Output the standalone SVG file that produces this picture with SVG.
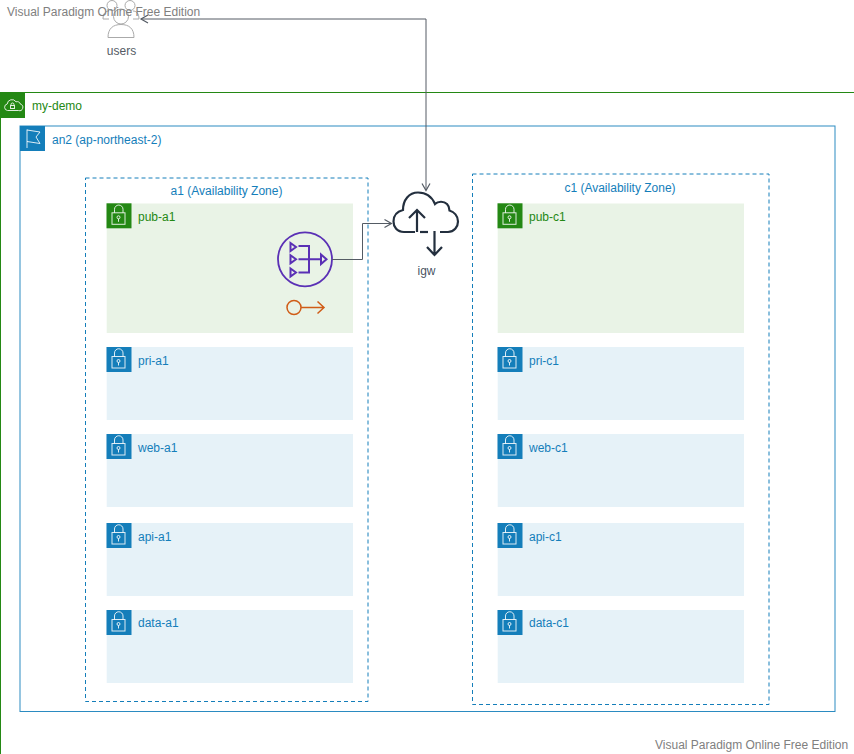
<svg xmlns="http://www.w3.org/2000/svg" width="854" height="754" viewBox="0 0 854 754">
<style>
text{font-family:"Liberation Sans",Arial,sans-serif;font-size:12px}
.g{fill:#248814}.b{fill:#147eba}.k{fill:#232f3e}.wm{fill:#808080}
.sg{fill:#e9f3e6}.sb{fill:#e6f2f8}
.az{fill:none;stroke:#147eba;stroke-dasharray:4 3}
.ico{fill:none;stroke:#fff;stroke-width:1;opacity:.85}
.conn{fill:none;stroke:#545b64;stroke-width:1}
.arr{fill:none;stroke:#545b64;stroke-width:1.200}
.cl{fill:none;stroke:#232f3e;stroke-width:2.200}
</style>
<defs>
<g id="lock">
<path class="ico" d="M8 9.500V6a4 4 0 0 1 8.500 0V9.500"/>
<rect class="ico" x="5.500" y="9.500" width="13" height="11.500"/>
<circle class="ico" cx="12" cy="14" r="1.500"/>
<path class="ico" d="M12 15.500v3"/>
</g>
<g id="gLock"><rect width="25" height="25" fill="#248814"/><use href="#lock"/></g>
<g id="bLock"><rect width="25" height="25" fill="#147eba"/><use href="#lock"/></g>
</defs>

<g id="vpc">
<rect x="0.500" y="92.500" width="900" height="700" fill="none" stroke="#248814"/>
<rect x="0" y="93" width="25" height="25" fill="#248814"/>
<path class="ico" d="M7.500 110.500h11a3.300 3.300 0 0 0 2-6.300 3.500 3.500 0 0 0-4.500-2.400 4.800 4.800 0 0 0-8.800 2.200 3.300 3.300 0 0 0 .3 6.500z"/>
<rect class="ico" x="10.500" y="105.500" width="4" height="3"/>
<path class="ico" d="M11 105.500v-1a1.500 1.500 0 0 1 3 0v1" stroke-width=".7"/>
<text class="g" x="32" y="110">my-demo</text>
</g>

<g id="region">
<rect x="20" y="126" width="815" height="585.500" fill="none" stroke="#147eba" stroke-opacity=".9"/>
<rect x="20" y="126" width="25" height="25" fill="#147eba"/>
<path class="ico" d="M27 148V129.500M27 130l13 2-4 5 4 6.500-13-2"/>
<text class="b" x="52" y="144">an2 (ap-northeast-2)</text>
</g>

<g id="az-a1">
<rect class="az" x="85.500" y="178" width="282.500" height="523.500"/>
<text class="b" x="226.500" y="195" text-anchor="middle">a1 (Availability Zone)</text>
</g>
<g id="az-c1">
<rect class="az" x="472.500" y="174" width="296.500" height="530.500"/>
<text class="b" x="620" y="192" text-anchor="middle">c1 (Availability Zone)</text>
</g>

<g id="pub-a1"><rect class="sg" x="106.700" y="203.500" width="246.300" height="129.500"/><use href="#gLock" x="106.500" y="203.300"/><text class="g" x="138" y="221">pub-a1</text></g>
<g id="pri-a1"><rect class="sb" x="106.700" y="347" width="246.300" height="73"/><use href="#bLock" x="106.500" y="347"/><text class="b" x="138" y="365">pri-a1</text></g>
<g id="web-a1"><rect class="sb" x="106.700" y="434" width="246.300" height="73"/><use href="#bLock" x="106.500" y="434"/><text class="b" x="138" y="452">web-a1</text></g>
<g id="api-a1"><rect class="sb" x="106.700" y="523" width="246.300" height="73"/><use href="#bLock" x="106.500" y="523"/><text class="b" x="138" y="541">api-a1</text></g>
<g id="data-a1"><rect class="sb" x="106.700" y="610" width="246.300" height="73"/><use href="#bLock" x="106.500" y="610"/><text class="b" x="138" y="627">data-a1</text></g>

<g id="pub-c1"><rect class="sg" x="497.700" y="203.500" width="246.300" height="129.500"/><use href="#gLock" x="497.500" y="203.300"/><text class="g" x="529" y="221">pub-c1</text></g>
<g id="pri-c1"><rect class="sb" x="497.700" y="347" width="246.300" height="73"/><use href="#bLock" x="497.500" y="347"/><text class="b" x="529" y="365">pri-c1</text></g>
<g id="web-c1"><rect class="sb" x="497.700" y="434" width="246.300" height="73"/><use href="#bLock" x="497.500" y="434"/><text class="b" x="529" y="452">web-c1</text></g>
<g id="api-c1"><rect class="sb" x="497.700" y="523" width="246.300" height="73"/><use href="#bLock" x="497.500" y="523"/><text class="b" x="529" y="541">api-c1</text></g>
<g id="data-c1"><rect class="sb" x="497.700" y="610" width="246.300" height="73"/><use href="#bLock" x="497.500" y="610"/><text class="b" x="529" y="627">data-c1</text></g>

<g id="nat" fill="none" stroke="#5a30b5">
<circle cx="305" cy="259.300" r="27" stroke-width="1.800"/>
<g stroke-width="2">
<path d="M290.500 243l5.500 4-5.500 4zM290.500 255.300l5.500 4-5.500 4zM290.500 268.500l5.500 4-5.500 4z"/>
<path d="M298.500 246h10.500v26.500h-10.500M298.500 259.300h22"/>
<path d="M321 254.500l5.500 4.800-5.500 4.800z"/>
</g>
</g>
<g id="route" fill="none" stroke="#d05c17" stroke-width="1.500">
<circle cx="294" cy="307.500" r="7"/>
<path d="M301 307.500h23M317.500 301.500l6.500 6-6.500 6"/>
</g>

<g id="igw">
<path class="cl" d="M415 232H404C397 232 393.500 227 393.500 221.500C393.500 216 397 211.500 403 210C403 200 409 192.500 418 192.500C426 192.500 432 197 435 204C438 201 444 201 447 204C449 206 449.500 208 449.500 210.500C454 212 458 216 458 221.500C458 227 454 232 448 232H440"/>
<path class="cl" d="M420 232h8"/>
<path class="cl" d="M417 232V210M409 218l8-8 8 8M434.500 231v24M427 247l7.500 8 7.500-8"/>
<text class="k" x="426.500" y="275" text-anchor="middle" fill-opacity=".85">igw</text>
</g>

<g id="users">
<g fill="none" stroke="#aaa" stroke-width="1">
<circle cx="112" cy="5.500" r="5"/>
<circle cx="130" cy="5.500" r="5"/>
<path d="M103 19c0-6 3-8 6-8M139 19c0-6-3-8-6-8M103 19h6M133 19h6"/>
<circle cx="121" cy="16.500" r="7.500"/>
<path d="M108 37.500c0-9 5-13 13-13s13 4 13 13z"/>
</g>
<text x="121.500" y="55" text-anchor="middle" fill="#545b64">users</text>
</g>

<g id="connectors">
<path class="conn" d="M332 259.500h30.500V223.500H391.500"/>
<path class="arr" d="M384.500 219.500l7 4-7 4"/>
<path class="conn" d="M426 190V19H141"/>
<path class="arr" d="M422 183.500l4 7 4-7M148 15l-7 4 7 4"/>
</g>

<g id="watermarks">
<text class="wm" x="7" y="16">Visual Paradigm Online Free Edition</text>
<text class="wm" x="655" y="749">Visual Paradigm Online Free Edition</text>
</g>
</svg>
